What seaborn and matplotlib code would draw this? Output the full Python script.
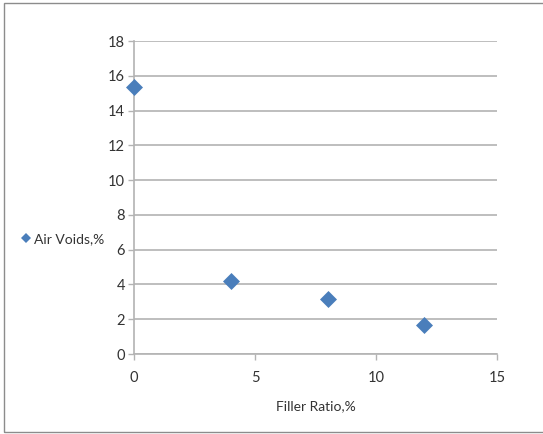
import matplotlib
matplotlib.use("Agg")
import matplotlib.pyplot as plt
import seaborn as sns
import pandas as pd
from matplotlib.patches import Rectangle
from matplotlib.lines import Line2D

# Filler content and measured air voids
filler_ratio = [0, 4, 8, 12]
air_voids = [15.35, 4.2, 3.15, 1.67]
x_ticks = [0, 5, 10, 15]
y_ticks = [0, 2, 4, 6, 8, 10, 12, 14, 16, 18]
series_name = "Air Voids,%"
x_label = "Filler Ratio,%"

df = pd.DataFrame({"Filler Ratio": filler_ratio, "Air Voids": air_voids})

sns.set_style("white")
plt.rcParams["font.family"] = ["Lato", "DejaVu Sans"]

blue = "#4a7ebb"
grid_gray = "#b3b3b3"
text_gray = "#333333"

fig = plt.figure(figsize=(5.43, 4.34), dpi=100)
ax = fig.add_axes([0.2468, 0.1843, 0.9153 - 0.2468, 0.9055 - 0.1843])

sns.scatterplot(data=df, x="Filler Ratio", y="Air Voids", marker="D", s=75,
                color=blue, edgecolor=blue, linewidth=0, ax=ax, zorder=5,
                clip_on=False, legend=False)

ax.set_xlim(0, 15)
ax.set_ylim(0, 18)
ax.set_xticks(x_ticks)
ax.set_yticks(y_ticks)
ax.set_xticklabels([str(t) for t in x_ticks])
ax.set_yticklabels([str(t) for t in y_ticks])

ax.grid(axis="y", color=grid_gray, linewidth=1.2)
ax.grid(axis="x", visible=False)
ax.set_axisbelow(True)

for side in ("top", "right"):
    ax.spines[side].set_visible(False)
for side in ("left", "bottom"):
    ax.spines[side].set_color(grid_gray)
    ax.spines[side].set_linewidth(1.2)

ax.tick_params(axis="both", which="major", direction="out", length=4,
               width=1.0, color=grid_gray, labelsize=10.5, labelcolor=text_gray,
               left=True, bottom=True)
ax.tick_params(axis="y", pad=2.5)
ax.tick_params(axis="x", pad=8)

ax.set_xlabel(x_label, fontsize=10, color=text_gray, labelpad=11)
ax.set_ylabel("")

handle = Line2D([], [], marker="D", linestyle="none", markersize=5,
                color=blue, markeredgewidth=0)
fig.legend([handle], [series_name], loc="center left",
           bbox_to_anchor=(0.012, 0.45), frameon=False, fontsize=10,
           handletextpad=0.1, handlelength=1.0, labelcolor=text_gray)

# Outer chart frame
fig.patches.append(Rectangle((0.008, 0.004), 0.995, 0.989,
                             transform=fig.transFigure, fill=False,
                             edgecolor="#8c8c8c", linewidth=1.0))

fig.savefig("out.png", dpi=100)
